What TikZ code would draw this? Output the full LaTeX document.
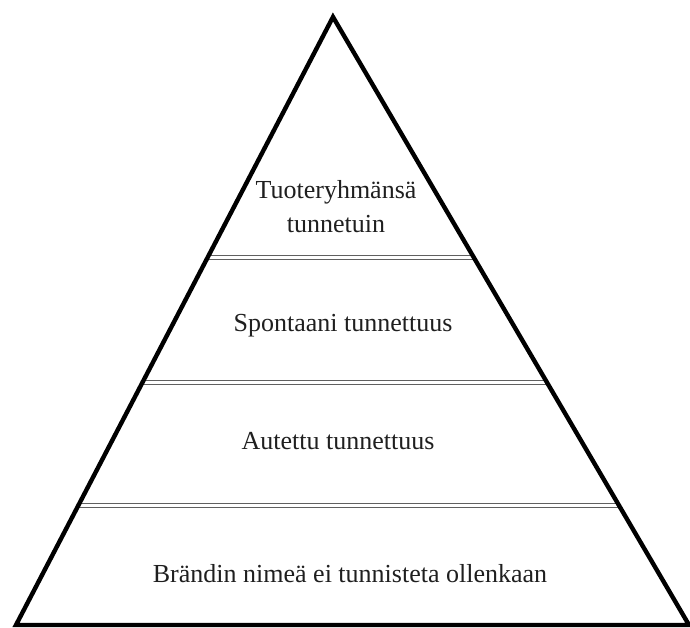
\documentclass[tikz,border=0pt]{standalone}
\usepackage{fontspec}
\setmainfont{Liberation Serif}
\usetikzlibrary{calc}
\begin{document}
\begin{tikzpicture}[x=1pt,y=1pt,
  edge/.style={line width=4.4pt, line join=miter, draw=black},
  divider/.style={draw=gray!75!black, line width=1.7pt, double=white, double distance=2.4pt},
  label/.style={font=\fontsize{26}{34}\selectfont, text=black!88, inner sep=0pt, align=center, anchor=base}]
  \useasboundingbox (0,0) rectangle (690,628);
  % corners of the pyramid
  \coordinate (apex) at (333,611);
  \coordinate (bl) at (16,3);
  \coordinate (br) at (689,3);
  % level dividers (double rules)
  \foreach \t/\n in {0.3956/d1, 0.6012/d2, 0.8035/d3} {
    \coordinate (\n l) at ($(apex)!\t!(bl)$);
    \coordinate (\n r) at ($(apex)!\t!(br)$);
    \draw[divider] (\n l) -- (\n r);
  }
  % outline
  \draw[edge] (apex) -- (br) -- (bl) -- cycle;
  % level labels
  \node[label] (top) at (336,395) {Tuoteryhmänsä\\tunnetuin};
  \node[label] (spont) at (343,296) {Spontaani tunnettuus};
  \node[label] (aut) at (338,178) {Autettu tunnettuus};
  \node[label] (none) at (350,45) {Brändin nimeä ei tunnisteta ollenkaan};
\end{tikzpicture}
\end{document}
